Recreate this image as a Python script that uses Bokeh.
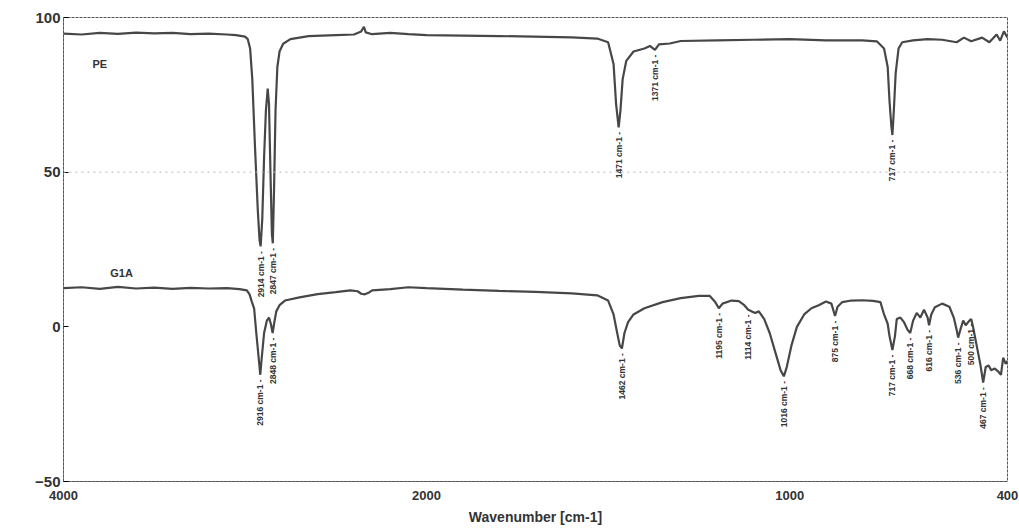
import numpy as np
from bokeh.plotting import figure
from bokeh.models import Range1d, FixedTicker, Label, Span, ColumnDataSource
from bokeh.core.properties import value
from bokeh.embed import file_html
from bokeh.resources import INLINE

# --- FT-IR transmission spectra (wavenumber in cm-1, %T) ---
pe_wn = [4000, 3900, 3800, 3700, 3600, 3500, 3400, 3300, 3200, 3100, 3050, 3000, 2985,
         2972, 2960, 2945, 2930, 2920, 2914, 2905, 2895, 2885, 2875, 2868, 2860, 2852, 2847,
         2840, 2832, 2822, 2810, 2790, 2750, 2650, 2500, 2400, 2360, 2345, 2335, 2300,
         2200, 2100, 2000, 1800, 1600, 1530, 1500, 1485, 1478, 1471, 1466, 1460, 1450,
         1430, 1400, 1385, 1371, 1360, 1330, 1300, 1200, 1100, 1000, 900, 800, 760, 740,
         730, 725, 720, 717, 713, 708, 700, 690, 660, 620, 580, 540, 520, 500, 470, 450,
         430, 420, 410, 400]
pe_t = [94.8, 94.5, 95.0, 94.7, 95.1, 94.9, 95.0, 94.6, 94.8, 94.5, 94.3, 93.8, 93.0,
        90.0, 80.0, 58.0, 38.0, 28.0, 26.0, 35.0, 55.0, 70.0, 77.0, 72.0, 50.0, 30.0, 27.0,
        45.0, 70.0, 84.0, 89.0, 91.5, 93.0, 94.0, 94.3, 94.5, 95.5, 97.0, 95.2, 94.6,
        95.0, 94.6, 94.3, 94.0, 93.6, 93.2, 92.0, 85.0, 72.0, 64.5, 70.0, 80.0, 86.0,
        89.0, 90.0, 90.8, 89.5, 91.3, 91.6, 92.4, 92.6, 92.8, 93.0, 92.6, 92.6, 92.3, 90.0,
        84.0, 73.0, 65.0, 62.0, 70.0, 82.0, 90.0, 92.0, 92.6, 93.0, 92.8, 92.0, 93.5, 92.3,
        93.5, 92.0, 94.5, 92.5, 95.5, 93.5]

g1a_wn = [4000, 3900, 3800, 3700, 3600, 3500, 3400, 3300, 3200, 3100, 3030, 2990, 2975,
          2962, 2950, 2938, 2925, 2916, 2908, 2895, 2880, 2868, 2858, 2848, 2840, 2828,
          2810, 2780, 2700, 2600, 2500, 2420, 2380, 2360, 2340, 2320, 2300, 2200, 2100,
          2000, 1900, 1800, 1700, 1600, 1530, 1500, 1485, 1475, 1468, 1462, 1455, 1445,
          1430, 1400, 1350, 1300, 1250, 1220, 1205, 1195, 1185, 1160, 1140, 1125, 1114,
          1105, 1095, 1085, 1070, 1055, 1040, 1025, 1016, 1008, 995, 980, 960, 940, 920,
          900, 885, 875, 868, 855, 830, 800, 770, 750, 740, 730, 725, 717, 710, 705, 695,
          685, 675, 668, 660, 650, 640, 630, 620, 616, 610, 600, 580, 560, 548, 540, 536,
          530, 522, 515, 505, 500, 495, 485, 475, 467, 460, 452, 445, 435, 425, 418, 412,
          405, 400]
g1a_t = [12.5, 12.8, 12.3, 12.9, 12.4, 12.7, 12.3, 12.6, 12.4, 12.5, 12.2, 11.8, 10.5,
         8.0, 6.0, -2.0, -10.0, -15.5, -10.0, -2.0, 2.0, 3.0, 1.0, -2.0, 1.0, 5.0,
         7.0, 8.5, 9.5, 10.6, 11.2, 11.8, 11.5, 10.7, 10.5, 11.0, 11.8, 12.2, 12.8,
         12.5, 12.0, 11.6, 11.3, 10.8, 10.2, 8.5, 4.0, -2.0, -6.0, -7.0, -2.0, 1.5,
         4.0, 6.0, 8.0, 9.3, 10.0, 10.0, 8.0, 6.0, 7.5, 8.5, 8.3, 7.0, 5.5,
         5.0, 4.5, 5.0, 2.5, -2.0, -8.0, -14.0, -16.0, -13.0, -6.0, 0.0, 4.0, 6.0, 7.0,
         8.2, 7.5, 3.5, 6.5, 8.0, 8.5, 8.6, 8.4, 8.0, 4.0, 1.0, -3.0, -7.5, -3.0, 2.5, 3.0,
         1.5, -1.0, -2.0, 2.0, 4.5, 3.0, 5.5, 3.0, 0.5, 4.0, 6.3, 7.5, 6.5, 3.0, -1.0, -3.5,
         -1.0, 2.0, 0.5, 2.0, 2.5, 0.0, -6.0, -12.0, -18.0, -13.0, -12.5, -14.0, -13.5,
         -14.5, -15.5, -10.0, -12.0, -11.0]

# --- annotated band positions ---
pe_peaks = [2914, 2847, 1471, 1371, 717]
pe_peak_t = [26.0, 27.0, 64.5, 89.5, 62.0]
g1a_peaks = [2916, 2848, 1462, 1195, 1114, 1016, 875, 717, 668, 616, 536, 500, 467]
g1a_peak_t = [-15.5, -2.0, -7.0, 6.0, 5.5, -16.0, 3.5, -7.5, -2.0, 0.5, -3.5, 2.5, -18.0]

x_tick_wn = [4000, 2000, 1000, 400]
y_ticks = [-50, 0, 50, 100]


def to_axis(wn):
    """Instrument-style abscissa: the region below 2000 cm-1 is expanded 2x."""
    wn = np.asarray(wn, dtype=float)
    return np.where(wn >= 2000, 4000 - wn, 2000 + 2 * (2000 - wn))


INK = "#474747"
TXT = "#333333"
FONT = "Liberation Sans"

p = figure(width=1019, height=528, output_backend="svg", toolbar_location=None,
           x_range=Range1d(0, float(to_axis(400))), y_range=Range1d(-50, 100),
           min_border_left=63, min_border_right=12, min_border_top=17, min_border_bottom=47)
p.background_fill_color = "white"
p.border_fill_color = "white"
p.grid.visible = False
p.outline_line_color = "#555555"
p.outline_line_dash = "3 1"
p.outline_line_width = 1

# x axis
xt = [float(v) for v in to_axis(x_tick_wn)]
p.xaxis.ticker = FixedTicker(ticks=xt)
p.xaxis.major_label_overrides = {int(t): str(w) for t, w in zip(xt, x_tick_wn)}
p.xaxis.major_tick_out = 0
p.xaxis.major_tick_in = 0
p.xaxis.minor_tick_line_color = None
p.xaxis.axis_line_color = "#555555"
p.xaxis.axis_line_dash = "3 1"
p.xaxis.major_label_standoff = 9
p.xaxis.major_label_text_font = FONT
p.xaxis.major_label_text_font_style = "bold"
p.xaxis.major_label_text_font_size = "13px"
p.xaxis.major_label_text_color = TXT
p.xaxis.axis_label = "Wavenumber [cm-1]"
p.xaxis.axis_label_standoff = 6
p.xaxis.axis_label_text_font = FONT
p.xaxis.axis_label_text_font_style = "bold"
p.xaxis.axis_label_text_font_size = "14px"
p.xaxis.axis_label_text_color = TXT

# y axis
p.yaxis.ticker = FixedTicker(ticks=y_ticks)
p.yaxis.major_tick_in = 5
p.yaxis.major_tick_out = 0
p.yaxis.minor_tick_line_color = None
p.yaxis.axis_line_color = "#555555"
p.yaxis.axis_line_dash = "3 1"
p.yaxis.major_label_standoff = 3
p.yaxis.major_label_text_font = FONT
p.yaxis.major_label_text_font_style = "bold"
p.yaxis.major_label_text_font_size = "15px"
p.yaxis.major_label_text_color = TXT

# faint reference line at 50 %T
p.add_layout(Span(location=50, dimension="width", line_color="#b5b5b5",
                  line_dash="2 4", line_width=1))

# spectra
p.line(to_axis(pe_wn), pe_t, line_color=INK, line_width=2.2)
p.line(to_axis(g1a_wn), g1a_t, line_color=INK, line_width=2.2)

# band labels, rotated, hanging just below each minimum
gap = 1.5
for wns, ts in ((pe_peaks, pe_peak_t), (g1a_peaks, g1a_peak_t)):
    src = ColumnDataSource(dict(
        x=to_axis(wns),
        y=[t - gap for t in ts],
        label=[f"{w} cm-1 -" for w in wns],
    ))
    p.text(x="x", y="y", text="label", source=src, angle=np.pi / 2,
           text_align="right", text_baseline="middle",
           text_font=value(FONT), text_font_style="bold",
           text_font_size="8.5px", text_color=TXT)

# sample names
p.add_layout(Label(x=float(to_axis(3800)), y=85, text="PE", text_font=FONT,
                   text_font_style="bold", text_font_size="11px", text_color=TXT,
                   text_align="center", text_baseline="middle"))
p.add_layout(Label(x=float(to_axis(3680)), y=17.5, text="G1A", text_font=FONT,
                   text_font_style="bold", text_font_size="11px", text_color=TXT,
                   text_align="center", text_baseline="middle"))
p.add_layout(Label(x=-226, y=23, text="%T", text_font=FONT,
                   text_font_style="bold", text_font_size="13px", text_color=TXT,
                   text_align="center", text_baseline="middle"))

open("out.html", "w").write(file_html(p, INLINE))
